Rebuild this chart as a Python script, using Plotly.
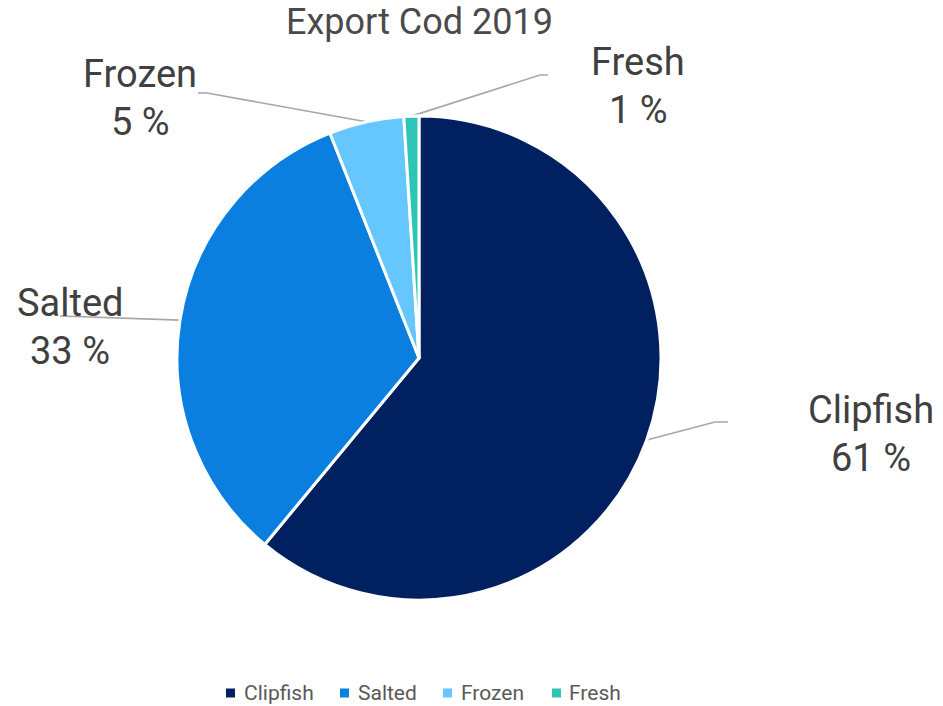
import math
import plotly.graph_objects as go

# Export of cod, 2019 – share by product type (percent)
categories = ["Clipfish", "Salted", "Frozen", "Fresh"]
shares = [61, 33, 5, 1]
colors = ["#002060", "#0A7FE0", "#66C7FF", "#2EC4B6"]

W, H = 943, 706
CX, CY, R = 419, 358, 242          # pie centre and radius in pixels

# Label placement: leader-line elbow, end of the horizontal tick, text centre
label_layout = {
    "Clipfish": dict(elbow=(715, 422), end=(728, 422), text=(871, 410), gap=48),
    "Salted":   dict(elbow=(60, 316), end=(60, 316), text=(70, 303), gap=48),
    "Frozen":   dict(elbow=(207, 93), end=(198, 93), text=(140, 74), gap=48),
    "Fresh":    dict(elbow=(540, 75), end=(548, 75), text=(638, 62), gap=48),
}

# Legend placement (marker centre x, text start x), on one row
legend_x = [230.5, 344.5, 447.5, 556.5]
legend_text_x = [242, 356, 459, 567]
LEGEND_Y = 693

FONT = "Roboto, 'Liberation Sans', sans-serif"
TEXT_DARK = "#404040"
TEXT_GREY = "#595959"
LINE_GREY = "#A6A6A6"

fig = go.Figure()

fig.add_trace(go.Pie(
    labels=categories,
    values=shares,
    sort=False,
    direction="clockwise",
    rotation=0,
    marker=dict(colors=colors, line=dict(color="white", width=3)),
    textinfo="none",
    hoverinfo="label+percent",
    showlegend=False,
    domain=dict(x=[(CX - R) / W, (CX + R) / W],
                y=[1 - (CY + R) / H, 1 - (CY - R) / H]),
))

# Leader lines start on the rim at each slice's mid-angle
total = sum(shares)
cum = 0.0
annotations = []
for name, val in zip(categories, shares):
    mid = (cum + val / 2) / total
    cum += val
    theta = 2 * math.pi * mid
    ex = CX + R * math.sin(theta)
    ey = CY - R * math.cos(theta)
    lay = label_layout[name]
    fig.add_trace(go.Scatter(
        x=[ex, lay["elbow"][0], lay["end"][0]],
        y=[ey, lay["elbow"][1], lay["end"][1]],
        mode="lines",
        line=dict(color=LINE_GREY, width=1.6),
        hoverinfo="skip",
        showlegend=False,
    ))
    tx, ty = lay["text"]
    annotations.append(dict(x=tx, y=ty, xref="x", yref="y", text=name,
                            showarrow=False, xanchor="center", yanchor="middle",
                            font=dict(family=FONT, size=38, color=TEXT_DARK)))
    annotations.append(dict(x=tx, y=ty + lay["gap"], xref="x", yref="y",
                            text=f"{round(val / total * 100)} %",
                            showarrow=False, xanchor="center", yanchor="middle",
                            font=dict(family=FONT, size=38, color=TEXT_DARK)))

# Legend row: square swatches followed by category names
fig.add_trace(go.Scatter(
    x=legend_x, y=[LEGEND_Y] * len(categories),
    mode="markers",
    marker=dict(symbol="square", size=9, color=colors),
    hoverinfo="skip", showlegend=False,
))
for tx, name in zip(legend_text_x, categories):
    annotations.append(dict(x=tx, y=LEGEND_Y, xref="x", yref="y", text=name,
                            showarrow=False, xanchor="left", yanchor="middle",
                            font=dict(family=FONT, size=21, color=TEXT_GREY)))

# Title
annotations.append(dict(x=CX, y=22, xref="x", yref="y", text="Export Cod 2019",
                        showarrow=False, xanchor="center", yanchor="middle",
                        font=dict(family=FONT, size=36, color="#4A4A4A")))

fig.update_layout(
    width=W, height=H,
    margin=dict(l=0, r=0, t=0, b=0),
    paper_bgcolor="white", plot_bgcolor="white",
    xaxis=dict(range=[0, W], visible=False, fixedrange=True),
    yaxis=dict(range=[H, 0], visible=False, fixedrange=True),
    annotations=annotations,
    showlegend=False,
)

fig.write_html("out.html")
